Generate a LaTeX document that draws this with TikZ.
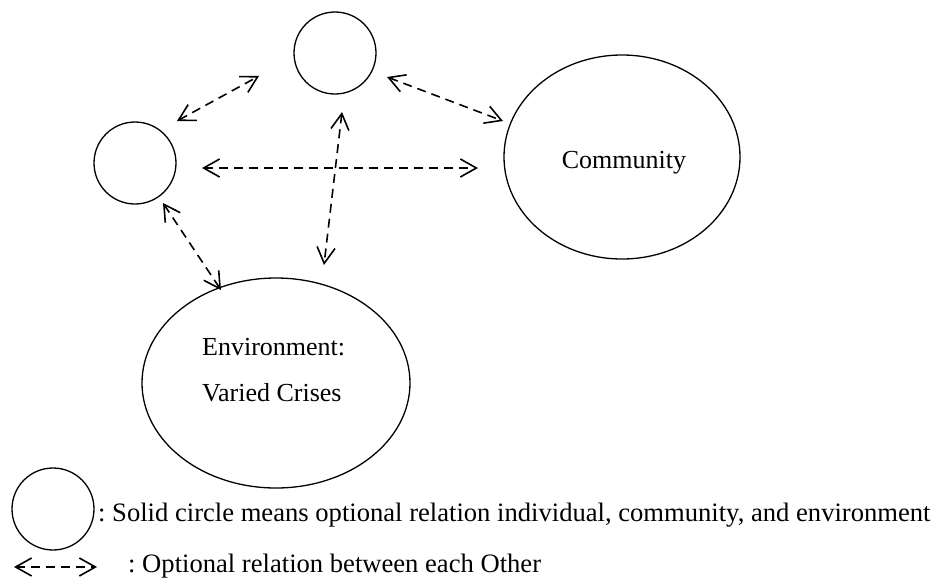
\documentclass[tikz,border=0pt]{standalone}
\usepackage{fontspec}
\setmainfont{Liberation Serif}
\frenchspacing
\usetikzlibrary{arrows.meta,shapes.geometric}
\begin{document}
\begin{tikzpicture}[x=1pt,y=1pt,
  circ/.style={draw,circle,line width=1.3pt,minimum size=82pt,inner sep=0pt},
  ell/.style={draw,ellipse,line width=1.3pt,inner sep=0pt},
  txt/.style={font=\fontsize{26}{46}\selectfont,inner sep=0pt},
  legtxt/.style={font=\fontsize{26.6}{46}\selectfont,inner sep=0pt},
  rel/.style={line width=1.6pt,dash pattern=on 9pt off 6pt,
    {Straight Barb[length=16pt,width=18pt]}-{Straight Barb[length=16pt,width=18pt]}}]
\useasboundingbox (0,0) rectangle (938,-579);
% nodes
\node[circ] (top) at (335,-53) {};
\node[circ] (left) at (135,-163) {};
\node[ell,minimum width=236pt,minimum height=204pt] (comm) at (622,-157) {};
\node[txt] (commtext) at (624,-163) {Community};
\node[ell,minimum width=268pt,minimum height=210pt] (env) at (276,-383) {};
\node[txt,align=left,anchor=west] (envtext) at (202,-370) {Environment:\\Varied Crises};
% legend
\node[circ] (legc) at (53,-509) {};
\node[legtxt,anchor=west] (legt1) at (98,-515) {: Solid circle means optional relation individual, community, and environment};
\node[legtxt,anchor=west] (legt2) at (128,-566) {: Optional relation between each Other};
% connector endpoints
\coordinate (a1s) at (177,-121); \coordinate (a1e) at (259,-76);
\coordinate (a2s) at (387,-77);  \coordinate (a2e) at (503,-121);
\coordinate (a3s) at (202,-168); \coordinate (a3e) at (478,-168);
\coordinate (a4s) at (342,-112); \coordinate (a4e) at (324,-265);
\coordinate (a5s) at (163,-203); \coordinate (a5e) at (221,-290);
\coordinate (l1) at (14,-567);   \coordinate (l2) at (97,-567);
\draw[rel] (a1s) -- (a1e);
\draw[rel] (a2s) -- (a2e);
\draw[rel] (a3s) -- (a3e);
\draw[rel] (a4s) -- (a4e);
\draw[rel] (a5s) -- (a5e);
\draw[rel] (l1) -- (l2);
\end{tikzpicture}
\end{document}
